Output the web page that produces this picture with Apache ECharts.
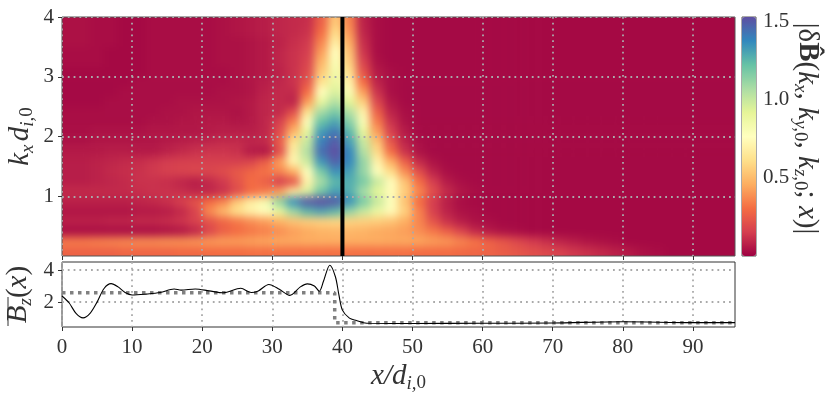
<!DOCTYPE html>
<html>
<head>
<meta charset="utf-8">
<script src="https://cdn.jsdelivr.net/npm/echarts@6/dist/echarts.min.js"></script>
<style>
  html, body { margin: 0; padding: 0; background: #fff; }
  #stage { position: relative; width: 831px; height: 397px; overflow: hidden; }
  #heatClip { position: absolute; left: 62px; top: 17px; width: 673px; height: 239px; overflow: hidden; }
  #heat { position: absolute; filter: blur(4px); }
  #chart { position: absolute; left: 0; top: 0; width: 831px; height: 397px; }
</style>
</head>
<body>
<div id="stage">
  <div id="heatClip"><div id="heat"></div></div>
  <div id="chart"></div>
</div>
<script>
// spectrum amplitude in hundredths, one row per k step of 1/6 (bottom row first),
// one column per 2 units of x
const deltaB = [
  [27,27,27,27,28,28,28,28,29,29,30,30,30,31,31,31,31,31,31,31,31,31,31,31,31,30,30,30,29,28,27,25,23,21,19,17,14,12,10,8,6,4,3,2,2,2,2,2],
  [34,34,35,36,37,38,38,39,39,40,41,42,42,43,44,45,45,46,46,46,46,46,46,45,45,44,42,40,36,32,27,23,19,15,12,9,7,5,4,3,2,2,2,2,2,2,2,2],
  [3,3,3,3,3,3,3,4,5,9,18,26,30,33,35,38,42,45,47,48,48,47,45,44,42,38,33,26,18,10,6,4,3,2,2,2,2,2,2,2,2,2,2,2,2,2,2,2],
  [8,8,8,9,9,10,10,11,13,17,22,28,33,38,42,47,52,55,57,58,57,56,55,52,46,36,22,12,7,4,3,2,2,2,2,2,2,2,2,2,2,2,2,2,2,2,2,2],
  [5,5,5,5,5,6,6,7,10,17,38,50,62,70,76,90,110,125,130,125,112,100,88,74,56,35,16,8,4,3,2,2,2,2,2,2,2,2,2,2,2,2,2,2,2,2,2,2],
  [8,8,8,8,8,9,10,12,16,22,30,36,54,68,82,112,135,150,155,150,135,118,100,78,52,30,15,7,3,2,2,2,2,2,2,2,2,2,2,2,2,2,2,2,2,2,2,2],
  [10,10,10,10,10,11,12,12,11,9,9,12,20,30,34,42,65,95,120,132,128,108,92,74,55,36,20,10,5,3,2,2,2,2,2,2,2,2,2,2,2,2,2,2,2,2,2,2],
  [7,7,8,9,10,12,12,11,9,7,10,14,22,30,26,15,22,70,108,125,128,118,100,75,52,30,15,6,3,2,2,2,2,2,2,2,2,2,2,2,2,2,2,2,2,2,2,2],
  [7,7,8,10,11,12,14,16,17,18,18,20,24,28,32,36,46,78,118,135,132,112,78,60,38,20,8,3,2,2,2,2,2,2,2,2,2,2,2,2,2,2,2,2,2,2,2,2],
  [7,7,8,9,10,11,13,15,16,16,16,16,16,18,26,42,72,98,134,148,138,112,70,46,26,10,4,2,2,2,2,2,2,2,2,2,2,2,2,2,2,2,2,2,2,2,2,2],
  [6,6,6,7,7,6,6,8,10,12,13,13,12,6,5,20,68,105,145,155,138,105,60,30,12,4,2,2,2,2,2,2,2,2,2,2,2,2,2,2,2,2,2,2,2,2,2,2],
  [4,4,5,5,5,5,5,6,7,8,9,10,10,9,10,24,62,100,140,150,132,100,52,22,8,3,2,2,2,2,2,2,2,2,2,2,2,2,2,2,2,2,2,2,2,2,2,2],
  [3,3,4,4,4,4,5,5,5,5,6,7,7,7,9,20,48,90,133,142,125,90,42,16,6,2,2,2,2,2,2,2,2,2,2,2,2,2,2,2,2,2,2,2,2,2,2,2],
  [3,3,3,3,3,3,4,4,5,5,6,6,5,6,9,16,35,78,122,130,115,80,34,12,4,2,2,2,2,2,2,2,2,2,2,2,2,2,2,2,2,2,2,2,2,2,2,2],
  [3,3,3,3,3,3,3,4,4,5,5,5,4,6,9,10,20,62,108,118,105,70,26,8,3,2,2,2,2,2,2,2,2,2,2,2,2,2,2,2,2,2,2,2,2,2,2,2],
  [2,2,2,3,3,3,3,3,4,4,4,4,5,6,9,10,8,42,90,105,92,56,18,5,2,2,2,2,2,2,2,2,2,2,2,2,2,2,2,2,2,2,2,2,2,2,2,2],
  [2,2,2,2,3,3,3,3,3,3,3,4,4,5,8,10,10,30,76,95,80,42,12,3,2,2,2,2,2,2,2,2,2,2,2,2,2,2,2,2,2,2,2,2,2,2,2,2],
  [2,2,2,2,2,3,3,3,3,3,3,3,4,5,7,9,12,22,62,88,70,30,8,3,2,2,2,2,2,2,2,2,2,2,2,2,2,2,2,2,2,2,2,2,2,2,2,2],
  [2,2,2,2,2,2,3,3,3,3,3,3,4,5,6,8,12,19,54,84,62,22,6,3,2,2,2,2,2,2,2,2,2,2,2,2,2,2,2,2,2,2,2,2,2,2,2,2],
  [3,3,3,2,2,2,3,3,3,3,3,4,4,5,6,9,12,17,48,80,56,17,4,2,2,2,2,2,2,2,2,2,2,2,2,2,2,2,2,2,2,2,2,2,2,2,2,2],
  [3,3,3,2,2,2,3,3,3,3,3,4,4,5,6,9,12,15,42,76,52,13,3,2,2,2,2,2,2,2,2,2,2,2,2,2,2,2,2,2,2,2,2,2,2,2,2,2],
  [4,4,3,3,2,2,3,3,3,3,3,4,4,5,6,8,11,14,36,68,46,11,3,2,2,2,2,2,2,2,2,2,2,2,2,2,2,2,2,2,2,2,2,2,2,2,2,2],
  [4,4,3,3,2,2,3,3,3,3,3,4,5,6,7,9,10,12,30,60,40,9,3,2,2,2,2,2,2,2,2,2,2,2,2,2,2,2,2,2,2,2,2,2,2,2,2,2],
  [4,4,3,3,2,2,3,3,3,3,3,4,5,6,7,9,10,11,26,54,36,8,3,2,2,2,2,2,2,2,2,2,2,2,2,2,2,2,2,2,2,2,2,2,2,2,2,2]
]

const xTicks = [0, 10, 20, 30, 40, 50, 60, 70, 80, 90]
const kTicks = [1, 2, 3, 4]
const bzTicks = [2, 4]
const cbarTicks = [0.5, 1.0, 1.5]
const kMark = [[40, 0], [40, 4]]

// Bz profile
const bzX = [0, 1, 2, 3, 4, 5, 6, 7, 8, 9, 10, 12, 14, 16, 17, 19, 21, 23, 25.5, 27, 28, 29.5, 31, 32.5, 34, 35, 36, 36.7, 37.3, 38.2, 39, 39.5, 40, 41, 42, 43, 44, 50, 60, 70, 80, 90, 96]
const bzY = [2.38, 1.96, 1.3, 1.02, 1.3, 2.0, 2.85, 3.15, 2.95, 2.6, 2.44, 2.5, 2.6, 2.82, 2.75, 2.82, 2.7, 2.58, 2.86, 2.6, 2.7, 3.1, 2.8, 2.42, 2.95, 3.14, 3.0, 2.68, 3.3, 4.3, 3.58, 2.45, 1.5, 1.0, 0.85, 0.72, 0.68, 0.67, 0.68, 0.7, 0.78, 0.72, 0.72]
const stepX = [0, 38.9, 38.9, 96]
const stepY = [2.58, 2.58, 0.72, 0.72]

const spectral = ['#9e0142', '#d53e4f', '#f46d43', '#fdae61', '#fee08b', '#ffffbf', '#e6f598', '#abdda4', '#66c2a5', '#3288bd', '#5e4fa2']
const vMax = 1.53

const serif = '"Liberation Serif", serif'
const inkColor = '#333'
const dotGrid = { show: true, lineStyle: { color: '#aaa', width: 1.8, type: [1.8, 4] } }

// the heat layer sits under the axes; two spare cells round it keep the blur off the clip edge
const plotW = 673
const plotH = 239
const spare = 2
const cellW = plotW / deltaB[0].length
const cellH = plotH / deltaB.length

function paddedRows() {
  let rows = deltaB.map(r => {
    let head = new Array(spare).fill(r[0])
    let tail = new Array(spare).fill(r[r.length - 1])
    return head.concat(r, tail)
  })
  let below = new Array(spare).fill(rows[0])
  let above = new Array(spare).fill(rows[rows.length - 1])
  return below.concat(rows, above)
}

function drawHeat() {
  let rows = paddedRows()
  let heatDom = document.getElementById('heat')
  heatDom.style.left = (-spare * cellW) + 'px'
  heatDom.style.top = (-spare * cellH) + 'px'
  heatDom.style.width = (rows[0].length * cellW) + 'px'
  heatDom.style.height = (rows.length * cellH) + 'px'

  let data = []
  rows.forEach((r, j) => r.forEach((v, i) => data.push([i, j, v / 100])))

  let heatChart = echarts.init(heatDom)
  heatChart.setOption({
    animation: false,
    grid: { left: 0, right: 0, top: 0, bottom: 0, outerBoundsMode: 'none' },
    xAxis: { type: 'category', show: false, data: rows[0].map((_, i) => i) },
    yAxis: { type: 'category', show: false, data: rows.map((_, j) => j) },
    visualMap: { show: false, min: 0, max: vMax, inRange: { color: spectral } },
    series: [{ type: 'heatmap', data: data, progressive: 0 }]
  })
}

function drawAxes() {
  let myChart = echarts.init(document.getElementById('chart'))
  let labelStyle = { fontFamily: serif, fontSize: 21, color: inkColor }
  let tick = { show: true, length: 4, lineStyle: { color: inkColor, width: 1 } }
  let rich = {
    i: { fontFamily: serif, fontStyle: 'italic', fontSize: 29, color: inkColor, lineHeight: 34 },
    r: { fontFamily: serif, fontSize: 29, color: inkColor, lineHeight: 34 },
    b: { fontFamily: serif, fontWeight: 'bold', fontSize: 29, color: inkColor, lineHeight: 34 },
    s: { fontFamily: serif, fontStyle: 'italic', fontSize: 19, color: inkColor, lineHeight: 24, verticalAlign: 'bottom' },
    n: { fontFamily: serif, fontSize: 19, color: inkColor, lineHeight: 24, verticalAlign: 'bottom' }
  }

  myChart.setOption({
    animation: false,
    backgroundColor: 'transparent',
    grid: [
      { left: 62, top: 17, width: plotW, height: plotH, show: true, borderColor: '#555', borderWidth: 1, backgroundColor: 'transparent', outerBoundsMode: 'none' },
      { left: 62, top: 262, width: plotW, height: 65, show: true, borderColor: '#333', borderWidth: 1, backgroundColor: 'transparent', outerBoundsMode: 'none' },
      { left: 742, top: 17, width: 14, height: plotH, show: true, borderColor: '#555', borderWidth: 1, backgroundColor: 'transparent', outerBoundsMode: 'none' }
    ],
    xAxis: [
      {
        gridIndex: 0, type: 'value', min: 0, max: 96,
        axisLine: { show: false }, axisLabel: { show: false, customValues: xTicks },
        axisTick: Object.assign({ customValues: xTicks }, tick), splitLine: dotGrid
      },
      {
        gridIndex: 1, type: 'value', min: 0, max: 96,
        axisLine: { show: false },
        axisLabel: Object.assign({ customValues: xTicks, margin: 10 }, labelStyle),
        axisTick: Object.assign({ customValues: xTicks }, tick), splitLine: dotGrid,
        name: '{i|x/d}{s|i,}{n|0}', nameLocation: 'middle', nameGap: 32, nameMoveOverlap: false,
        nameTextStyle: { rich: rich }
      },
      { gridIndex: 2, type: 'value', min: 0, max: 1, show: false }
    ],
    yAxis: [
      {
        gridIndex: 0, type: 'value', min: 0, max: 4,
        axisLine: { show: false },
        axisLabel: Object.assign({ customValues: kTicks, margin: 8 }, labelStyle),
        axisTick: Object.assign({ customValues: kTicks }, tick), splitLine: dotGrid,
        name: '{i|k}{s|x} {i|d}{s|i,}{n|0}', nameLocation: 'middle', nameGap: 25, nameRotate: 90, nameMoveOverlap: false,
        nameTextStyle: { rich: rich }
      },
      {
        gridIndex: 1, type: 'value', min: 0.45, max: 4.5,
        axisLine: { show: false },
        axisLabel: Object.assign({ customValues: bzTicks, margin: 8 }, labelStyle),
        axisTick: Object.assign({ customValues: bzTicks }, tick), splitLine: dotGrid,
        name: '{i|B}{s|z}{r|(}{i|x}{r|)}', nameLocation: 'middle', nameGap: 27, nameRotate: 90, nameMoveOverlap: false,
        nameTextStyle: { rich: rich }
      },
      {
        gridIndex: 2, type: 'value', min: 0, max: vMax, position: 'right',
        axisLine: { show: false }, splitLine: { show: false },
        axisLabel: Object.assign({ customValues: cbarTicks, margin: 7, formatter: v => v.toFixed(1) }, labelStyle),
        axisTick: Object.assign({ customValues: cbarTicks }, tick),
        name: '{r||δ}{b|B\u0302}{r|(}{i|k}{s|x}{r|, }{i|k}{s|y,}{n|0}{r|, }{i|k}{s|z,}{n|0}{r|; }{i|x}{r|)|}',
        nameLocation: 'middle', nameGap: 34, nameRotate: -90, nameMoveOverlap: false,
        nameTextStyle: { rich: rich, padding: [0, 16, 0, 0] }
      }
    ],
    visualMap: {
      seriesIndex: [], min: 0, max: vMax, inRange: { color: spectral },
      calculable: false, showLabel: false, text: null, padding: 0,
      left: 742, top: 17, itemWidth: 14, itemHeight: plotH, hoverLink: false
    },
    graphic: [
      // overbar of the Bz label
      { type: 'line', z: 10, shape: { x1: 8, y1: 297, x2: 8, y2: 326 }, style: { stroke: inkColor, lineWidth: 1 } }
    ],
    series: [
      {
        type: 'line', xAxisIndex: 0, yAxisIndex: 0, data: kMark, symbol: 'none', silent: true,
        lineStyle: { color: '#000', width: 4 }
      },
      {
        type: 'line', xAxisIndex: 1, yAxisIndex: 1, data: stepX.map((x, i) => [x, stepY[i]]), symbol: 'none', silent: true,
        lineStyle: { color: '#808080', width: 3.5, type: [3.5, 4.5] }
      },
      {
        type: 'line', xAxisIndex: 1, yAxisIndex: 1, data: bzX.map((x, i) => [x, bzY[i]]), symbol: 'none', silent: true,
        smooth: 0.3, lineStyle: { color: '#000', width: 1.1 }
      }
    ]
  })
}

drawHeat()
drawAxes()
</script>
</body>
</html>
